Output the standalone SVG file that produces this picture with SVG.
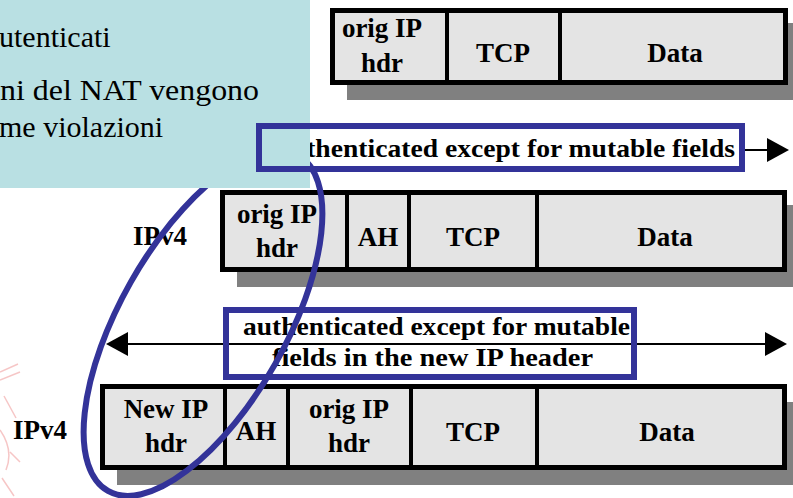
<svg xmlns="http://www.w3.org/2000/svg" width="793" height="498" viewBox="0 0 793 498">
<style>
.cell{fill:#e4e4e4;stroke:#000;stroke-width:5}
.div{stroke:#000;stroke-width:4}
.shadow{fill:#808080}
.lbl{font-family:"Liberation Serif","Times New Roman","DejaVu Serif",serif;font-weight:bold;font-size:27px;text-anchor:middle;fill:#000}
.side{font-family:"Liberation Serif","Times New Roman","DejaVu Serif",serif;font-weight:bold;font-size:27px;fill:#000}
.cap{font-family:"Liberation Serif","Times New Roman","DejaVu Serif",serif;font-weight:bold;font-size:26px;fill:#000}
.note{font-family:"Liberation Serif","Times New Roman","DejaVu Serif",serif;font-size:30px;fill:#000}
.blue{fill:none;stroke:#333399;stroke-width:6}
.conn{stroke:#000;stroke-width:2;fill:none}
</style>
<defs>
<marker id="ah" viewBox="0 0 22 24" refX="0" refY="12" markerWidth="22" markerHeight="24" markerUnits="userSpaceOnUse" orient="auto-start-reverse">
<path d="M0,0 L22,12 L0,24 z" fill="#000"/>
</marker>
</defs>
<rect width="793" height="498" fill="#fff"/>
<g id="watermark" fill="none" stroke="#f4b8b8" stroke-width="1.5" opacity="0.8">
<path d="M0,372 L18,364 M0,380 L20,372 M4,396 L16,418 M0,430 Q14,450 6,470 M2,478 L14,496 M10,452 L20,462"/>
</g>
<g id="packet-top">
<rect class="shadow" x="347" y="23" width="460" height="77"/>
<rect class="cell" x="332.5" y="10.5" width="453" height="72"/>
<line class="div" x1="447" y1="10" x2="447" y2="83"/>
<line class="div" x1="560" y1="10" x2="560" y2="83"/>
<text class="lbl" x="382" y="37">orig IP</text>
<text class="lbl" x="382" y="72">hdr</text>
<text class="lbl" x="503" y="62">TCP</text>
<text class="lbl" x="675" y="62">Data</text>
</g>
<g id="label-top-text">
<text class="cap" x="277" y="157" textLength="458" lengthAdjust="spacingAndGlyphs">authenticated except for mutable fields</text>
</g>
<g id="packet-mid">
<text class="side" x="133" y="245">IPv4</text>
<rect class="shadow" x="237" y="205" width="570" height="82"/>
<rect class="cell" x="222.5" y="192.5" width="562" height="77"/>
<line class="div" x1="347" y1="192" x2="347" y2="270"/>
<line class="div" x1="409" y1="192" x2="409" y2="270"/>
<line class="div" x1="537" y1="192" x2="537" y2="270"/>
<text class="lbl" x="277" y="223">orig IP</text>
<text class="lbl" x="277" y="257">hdr</text>
<text class="lbl" x="378" y="246">AH</text>
<text class="lbl" x="473" y="246">TCP</text>
<text class="lbl" x="665" y="246">Data</text>
</g>
<g id="packet-bottom">
<text class="side" x="13" y="439">IPv4</text>
<rect class="shadow" x="117" y="402" width="690" height="83"/>
<rect class="cell" x="102.5" y="386.5" width="682" height="81"/>
<line class="div" x1="225" y1="386" x2="225" y2="468"/>
<line class="div" x1="288" y1="386" x2="288" y2="468"/>
<line class="div" x1="411" y1="386" x2="411" y2="468"/>
<line class="div" x1="537" y1="386" x2="537" y2="468"/>
<text class="lbl" x="166" y="418">New IP</text>
<text class="lbl" x="166" y="452">hdr</text>
<text class="lbl" x="256" y="440">AH</text>
<text class="lbl" x="349" y="418">orig IP</text>
<text class="lbl" x="349" y="452">hdr</text>
<text class="lbl" x="473" y="441">TCP</text>
<text class="lbl" x="667" y="441">Data</text>
</g>
<g id="connectors">
<line class="conn" x1="745" y1="150" x2="767" y2="150" marker-end="url(#ah)"/>
<line class="conn" x1="128" y1="344" x2="765" y2="344" marker-start="url(#ah)" marker-end="url(#ah)"/>
</g>
<g id="label-mid">
<text class="cap" x="243" y="335" textLength="387" lengthAdjust="spacingAndGlyphs">authenticated except for mutable</text>
<text class="cap" x="272" y="366" textLength="321" lengthAdjust="spacingAndGlyphs">fields in the new IP header</text>
<rect class="blue" x="226" y="310" width="408" height="67"/>
</g>
<g id="highlight-ellipse">
<ellipse class="blue" cx="203" cy="323" rx="193" ry="83" transform="rotate(-60.5 203 323)"/>
</g>
<g id="note-box">
<rect x="0" y="0" width="310" height="188" fill="#b9e0e3"/>
<text class="note" x="-1" y="47">utenticati</text>
<text class="note" x="0" y="100" textLength="259" lengthAdjust="spacingAndGlyphs">ni del NAT vengono</text>
<text class="note" x="-1" y="137">me violazioni</text>
</g>
<g id="label-top-box">
<rect class="blue" x="259" y="126" width="483" height="43"/>
</g>
</svg>
